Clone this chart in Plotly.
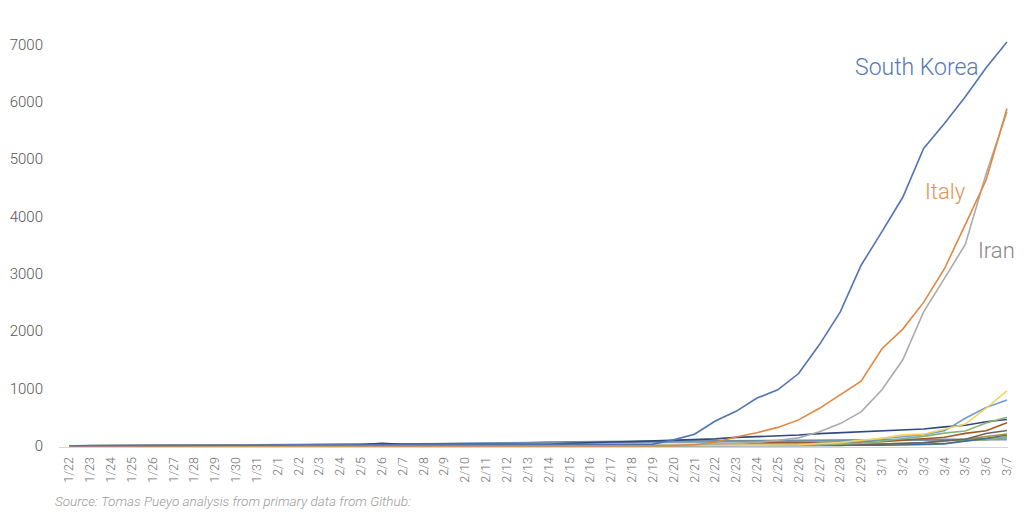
import plotly.graph_objects as go

dates = (["1/%d" % d for d in range(22, 32)] +
         ["2/%d" % d for d in range(1, 30)] +
         ["3/%d" % d for d in range(1, 8)])

south_korea = [1, 1, 2, 2, 3, 4, 4, 4, 4, 11,
               12, 15, 15, 16, 19, 23, 24, 24, 25, 27,
               28, 28, 28, 28, 28, 29, 30, 31, 31, 104,
               204, 433, 602, 833, 977, 1261, 1766, 2337, 3150,
               3736, 4335, 5186, 5621, 6088, 6593, 7041]
italy = [0, 0, 0, 0, 0, 0, 0, 0, 0, 2,
         2, 2, 2, 2, 2, 2, 3, 3, 3, 3,
         3, 3, 3, 3, 3, 3, 3, 3, 3, 3,
         20, 62, 155, 229, 322, 453, 655, 888, 1128,
         1694, 2036, 2502, 3089, 3858, 4636, 5883]
iran = [0, 0, 0, 0, 0, 0, 0, 0, 0, 0,
        0, 0, 0, 0, 0, 0, 0, 0, 0, 0,
        0, 0, 0, 0, 0, 0, 0, 0, 2, 5,
        18, 28, 43, 61, 95, 139, 245, 388, 593,
        978, 1501, 2336, 2922, 3513, 4747, 5823]
france = [0, 0, 2, 3, 3, 3, 4, 5, 5, 5,
          6, 6, 6, 6, 6, 6, 6, 11, 11, 11,
          11, 11, 11, 11, 12, 12, 12, 12, 12, 12,
          12, 12, 12, 12, 14, 18, 38, 57, 100,
          130, 191, 204, 288, 380, 656, 959]
germany = [0, 0, 0, 0, 0, 1, 4, 4, 4, 5,
           8, 10, 12, 12, 12, 12, 13, 13, 14, 14,
           16, 16, 16, 16, 16, 16, 16, 16, 16, 16,
           16, 16, 16, 16, 17, 27, 46, 48, 79,
           130, 159, 196, 262, 482, 670, 799]
spain = [0, 0, 0, 0, 0, 0, 0, 0, 0, 0,
         1, 1, 1, 1, 1, 1, 1, 1, 2, 2,
         2, 2, 2, 2, 2, 2, 2, 2, 2, 2,
         2, 2, 2, 2, 6, 13, 15, 32, 45,
         84, 120, 165, 222, 259, 400, 500]
japan = [2, 1, 2, 2, 4, 4, 7, 7, 11, 15,
         20, 20, 20, 22, 22, 45, 25, 25, 26, 26,
         26, 28, 28, 29, 43, 59, 66, 74, 84, 94,
         105, 122, 147, 159, 170, 189, 214, 228, 241,
         256, 274, 293, 331, 360, 420, 461]
us = [1, 1, 2, 2, 5, 5, 5, 5, 5, 7,
      8, 8, 11, 11, 11, 11, 11, 11, 11, 11,
      12, 12, 13, 13, 13, 13, 13, 13, 13, 13,
      15, 15, 15, 51, 51, 57, 58, 60, 68,
      74, 98, 118, 149, 217, 262, 402]
switzerland = [0, 0, 0, 0, 0, 0, 0, 0, 0, 0,
               0, 0, 0, 0, 0, 0, 0, 0, 0, 0,
               0, 0, 0, 0, 0, 0, 0, 0, 0, 0,
               0, 0, 0, 0, 1, 1, 8, 8, 18,
               27, 42, 56, 90, 114, 214, 268]
uk = [0, 0, 0, 0, 0, 0, 0, 0, 0, 2,
      2, 2, 2, 2, 2, 2, 3, 3, 3, 8,
      8, 9, 9, 9, 9, 9, 9, 9, 9, 9,
      9, 9, 9, 13, 13, 13, 15, 20, 23,
      36, 40, 51, 85, 115, 163, 206]
netherlands = [0, 0, 0, 0, 0, 0, 0, 0, 0, 0,
               0, 0, 0, 0, 0, 0, 0, 0, 0, 0,
               0, 0, 0, 0, 0, 0, 0, 0, 0, 0,
               0, 0, 0, 0, 0, 0, 1, 1, 6,
               10, 18, 24, 38, 82, 128, 188]
singapore = [0, 1, 3, 3, 4, 5, 7, 7, 10, 13,
             16, 18, 18, 24, 28, 28, 30, 33, 40, 45,
             47, 50, 58, 67, 72, 75, 77, 81, 84, 84,
             85, 85, 89, 89, 91, 93, 93, 93, 102,
             106, 108, 110, 110, 117, 130, 138]
hong_kong = [0, 2, 2, 5, 8, 8, 8, 10, 10, 12,
             13, 15, 15, 18, 21, 24, 26, 26, 36, 42,
             49, 50, 53, 56, 56, 57, 60, 62, 63, 68,
             68, 69, 74, 79, 84, 91, 92, 94, 95,
             96, 100, 100, 105, 105, 105, 107]
sweden = [0, 0, 0, 0, 0, 0, 0, 0, 0, 1,
          1, 1, 1, 1, 1, 1, 1, 1, 1, 1,
          1, 1, 1, 1, 1, 1, 1, 1, 1, 1,
          1, 1, 1, 1, 1, 2, 7, 7, 12,
          14, 15, 21, 35, 94, 101, 161]

series = [
    ("Hong Kong", hong_kong, "#7F9BB5"),
    ("Singapore", singapore, "#6F8FA8"),
    ("Sweden", sweden, "#8CB46E"),
    ("Netherlands", netherlands, "#3F6E99"),
    ("UK", uk, "#B08A2E"),
    ("Switzerland", switzerland, "#666666"),
    ("US", us, "#9E5A2A"),
    ("Japan", japan, "#2F4B7C"),
    ("Spain", spain, "#86B47C"),
    ("Germany", germany, "#6C9FD2"),
    ("France", france, "#F2D35E"),
    ("Iran", iran, "#ABABAB"),
    ("Italy", italy, "#E3873F"),
    ("South Korea", south_korea, "#5073B6"),
]

fig = go.Figure()
for name, vals, col in series:
    fig.add_trace(go.Scatter(x=dates, y=vals, mode="lines", name=name,
                             line=dict(color=col, width=1.6)))

font_family = "Roboto, Liberation Sans, sans-serif"
plot_w = 1024 - 56 - 10

fig.update_layout(
    width=1024, height=512,
    margin=dict(l=56, r=10, t=33, b=65),
    paper_bgcolor="white", plot_bgcolor="white",
    showlegend=False,
    font=dict(family=font_family, color="#666666"),
    xaxis=dict(type="category", range=[-0.5, 45.05], showgrid=False,
               showline=True, linecolor="#D5D5D5", linewidth=1,
               tickangle=-90, tickfont=dict(size=12.5, color="#6E6E6E", weight=300),
               ticks="outside", ticklen=4, tickcolor="rgba(0,0,0,0)",
               zeroline=False),
    yaxis=dict(range=[-20, 7200], tickvals=[0, 1000, 2000, 3000, 4000, 5000, 6000, 7000],
               showgrid=False, showline=False, zeroline=False,
               tickfont=dict(size=15, color="#555555", weight=300),
               ticks="outside", ticklen=12, tickcolor="rgba(0,0,0,0)"),
    annotations=[
        dict(x=40.67, y=6600, xref="x", yref="y", text="South Korea", showarrow=False,
             font=dict(size=23, color="#5678B8", family=font_family, weight=300)),
        dict(x=42.05, y=4433, xref="x", yref="y", text="Italy", showarrow=False,
             font=dict(size=22, color="#E3914F", family=font_family, weight=300)),
        dict(x=44.5, y=3403, xref="x", yref="y", text="Iran", showarrow=False,
             font=dict(size=22, color="#888888", family=font_family, weight=300)),
        dict(x=(50 - 56) / plot_w, y=-64 / 414, xref="paper", yref="paper",
             xanchor="left", yanchor="bottom",
             text="<i>Source: Tomas Pueyo analysis from primary data from Github:</i>",
             showarrow=False, font=dict(size=13.5, color="#9A9A9A", family=font_family, weight=300)),
    ],
)

fig.write_html("out.html", config={"displayModeBar": False},
               post_script="document.body.style.margin='0';document.body.style.padding='0';"
                           "document.body.style.overflow='hidden';")
